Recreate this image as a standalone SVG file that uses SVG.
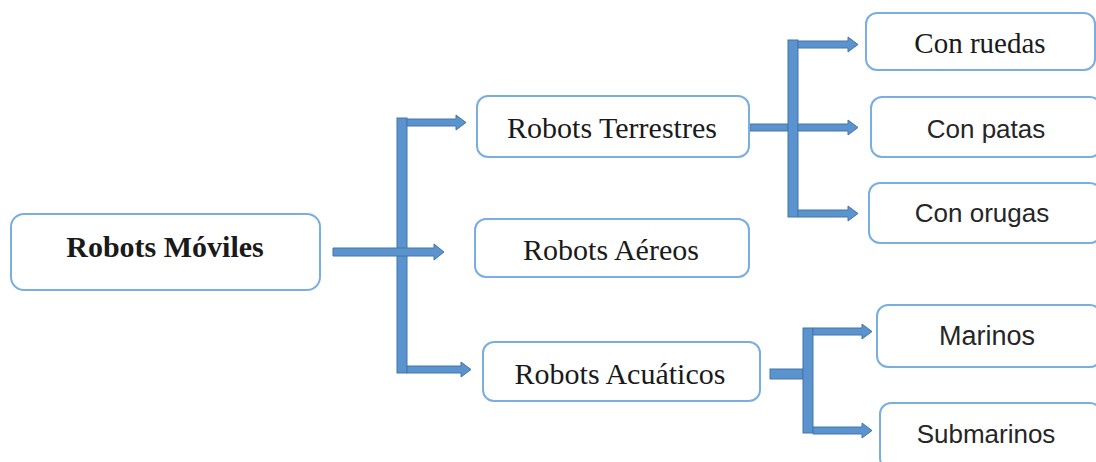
<svg xmlns="http://www.w3.org/2000/svg" width="1096" height="462" viewBox="0 0 1096 462">
  <style>
    .box { fill: #ffffff; stroke: #7aaee0; stroke-width: 2; }
    .bar { fill: #5b93cf; stroke: #4576a8; stroke-width: 1; }
    .serif { font-family: "Liberation Serif", "Times New Roman", serif; fill: #1a1a1a; text-anchor: middle; }
    .sans { font-family: "Liberation Sans", Arial, sans-serif; fill: #262626; text-anchor: middle; }
  </style>

  <!-- connectors: thick blue bars and block arrows -->
  <g id="connectors">
    <!-- root fan-out -->
    <rect class="bar" x="397" y="118" width="10" height="255"/>
    <polygon class="bar" points="333,248 434,248 434,244 444,252 434,260 434,256 333,256"/>
    <polygon class="bar" points="407,119 456,119 456,115 466,122.5 456,130 456,126 407,126"/>
    <polygon class="bar" points="407,366 461,366 461,362 471,369.5 461,377 461,373 407,373"/>
    <!-- terrestrial fan-out -->
    <rect class="bar" x="750" y="124" width="38" height="7"/>
    <rect class="bar" x="788" y="40" width="10" height="177"/>
    <polygon class="bar" points="798,41 848,41 848,37 858,44.5 848,52 848,48 798,48"/>
    <polygon class="bar" points="798,124 848,124 848,120 858,127.5 848,135 848,131 798,131"/>
    <polygon class="bar" points="798,210 848,210 848,206 858,213.5 848,221 848,217 798,217"/>
    <!-- aquatic fan-out -->
    <rect class="bar" x="770" y="369" width="33" height="10"/>
    <rect class="bar" x="803" y="328" width="10" height="105"/>
    <polygon class="bar" points="813,328 862,328 862,324 872,331.5 862,339 862,335 813,335"/>
    <polygon class="bar" points="813,427 862,427 862,423 872,430.5 862,438 862,434 813,434"/>
  </g>

  <g id="robots-moviles">
    <rect class="box" x="11" y="214" width="309" height="76" rx="13"/>
    <text class="serif" x="165" y="257" font-size="30" font-weight="bold">Robots Móviles</text>
  </g>

  <g id="robots-terrestres">
    <rect class="box" x="477" y="96" width="272" height="61" rx="11"/>
    <text class="serif" x="612" y="138" font-size="30">Robots Terrestres</text>
  </g>

  <g id="robots-aereos">
    <rect class="box" x="475" y="219" width="274" height="58" rx="11"/>
    <text class="serif" x="611" y="260" font-size="30">Robots Aéreos</text>
  </g>

  <g id="robots-acuaticos">
    <rect class="box" x="483" y="342" width="277" height="59" rx="11"/>
    <text class="serif" x="620" y="384" font-size="30">Robots Acuáticos</text>
  </g>

  <g id="con-ruedas">
    <rect class="box" x="866" y="13" width="229" height="57" rx="11"/>
    <text class="serif" x="980" y="53" font-size="29">Con ruedas</text>
  </g>

  <g id="con-patas">
    <rect class="box" x="871" y="97" width="230" height="60" rx="11"/>
    <text class="sans" x="986" y="138" font-size="26">Con patas</text>
  </g>

  <g id="con-orugas">
    <rect class="box" x="869" y="183" width="232" height="60" rx="11"/>
    <text class="sans" x="982" y="222" font-size="26">Con orugas</text>
  </g>

  <g id="marinos">
    <rect class="box" x="877" y="305" width="224" height="62" rx="11"/>
    <text class="sans" x="987" y="345" font-size="27">Marinos</text>
  </g>

  <g id="submarinos">
    <rect class="box" x="880" y="403" width="221" height="66" rx="11"/>
    <text class="sans" x="986" y="443" font-size="26">Submarinos</text>
  </g>
</svg>
